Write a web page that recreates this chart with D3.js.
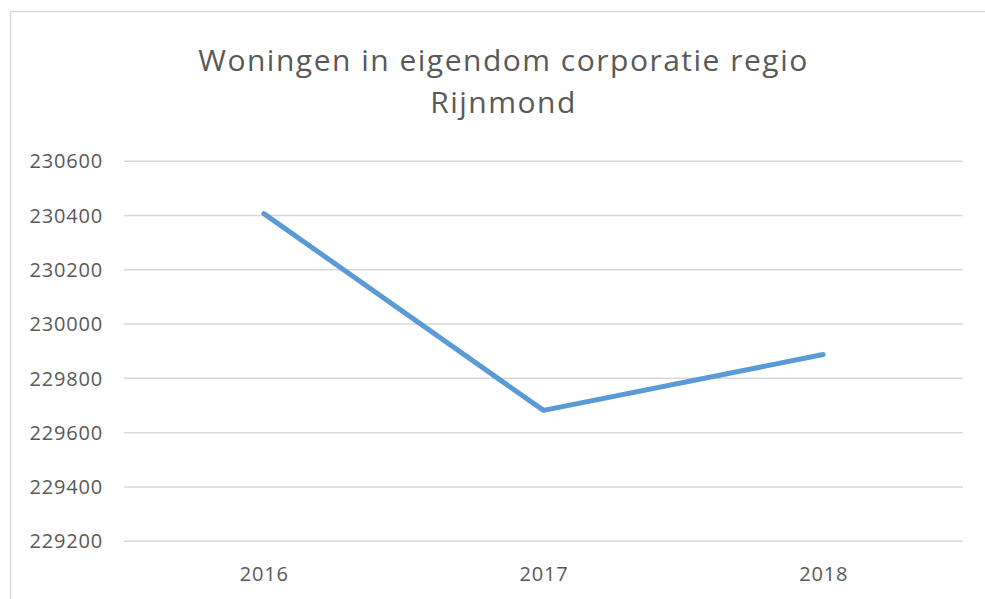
<!DOCTYPE html>
<html>
<head>
<meta charset="utf-8">
<script src="https://cdn.jsdelivr.net/npm/d3@7"></script>
<style>
  html, body { margin: 0; padding: 0; background: #fff; }
  svg { display: block; }
  text { font-family: "Open Sans", "Liberation Sans", sans-serif; fill: #595959; }
</style>
</head>
<body>
<svg id="chart" width="985" height="599"></svg>
<script>
const titleLines = ["Woningen in eigendom corporatie regio", "Rijnmond"];
const years = ["2016", "2017", "2018"];
const values = [230405, 229680, 229886];
const yTicks = [229200, 229400, 229600, 229800, 230000, 230200, 230400, 230600];

const svg = d3.select("#chart");
const left = 124, right = 963;

// chart frame
svg.append("rect")
  .attr("x", 10.5).attr("y", 11.5)
  .attr("width", 1000).attr("height", 1000)
  .attr("fill", "#fff")
  .attr("stroke", "#d9d9d9").attr("stroke-width", 1.5);

// title
svg.selectAll("text.title")
  .data(titleLines)
  .enter().append("text")
  .attr("class", "title")
  .attr("x", 503.5)
  .attr("y", (d, i) => 71 + i * 42)
  .attr("text-anchor", "middle")
  .attr("font-size", 30)
  .attr("letter-spacing", 1.5)
  .text(d => d);

const x = d3.scalePoint().domain(years).range([left, right]).padding(0.5);
const y = d3.scaleLinear().domain([229200, 230600]).range([540.7, 160.7]);

// gridlines + y labels
const yAxis = d3.axisLeft(y).tickValues(yTicks).tickSize(-(right - left)).tickFormat(d => d);
const gy = svg.append("g").attr("transform", `translate(${left},0)`).call(yAxis);
gy.select(".domain").remove();
gy.selectAll(".tick line").attr("stroke", "#d9d9d9").attr("stroke-width", 1.5);
gy.selectAll(".tick text")
  .attr("x", -21)
  .attr("dy", "0.36em")
  .attr("font-size", 20)
  .attr("letter-spacing", 0.8)
  .attr("font-family", "Open Sans, sans-serif")
  .attr("fill", "#595959");

// x axis labels
const xAxis = d3.axisBottom(x).tickSize(0);
const gx = svg.append("g").attr("transform", "translate(0,540.7)").call(xAxis);
gx.select(".domain").remove();
gx.selectAll(".tick text")
  .attr("y", 40)
  .attr("dy", 0)
  .attr("font-size", 20)
  .attr("letter-spacing", 0.8)
  .attr("font-family", "Open Sans, sans-serif")
  .attr("fill", "#595959");

// line
const line = d3.line().x((d, i) => x(years[i])).y(d => y(d));
svg.append("path")
  .datum(values)
  .attr("d", line)
  .attr("fill", "none")
  .attr("stroke", "#5b9bd5")
  .attr("stroke-width", 5)
  .attr("stroke-linejoin", "round")
  .attr("stroke-linecap", "round");
</script>
</body>
</html>
